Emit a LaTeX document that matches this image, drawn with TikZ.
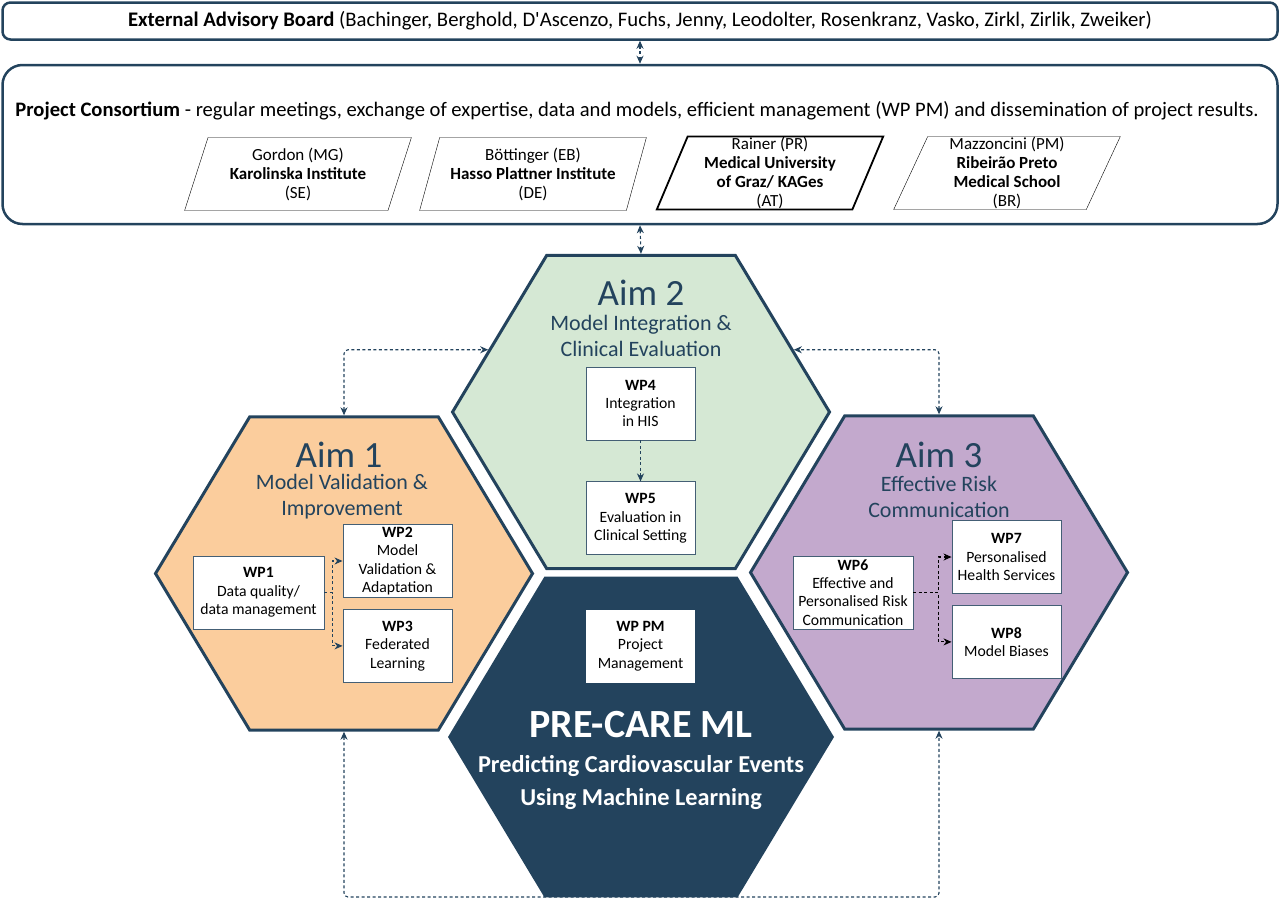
\documentclass[tikz,border=0pt]{standalone}
\usepackage{fontspec}
\setmainfont{Carlito}
\usetikzlibrary{positioning,shapes.geometric,arrows.meta}
\definecolor{deep}{HTML}{23435D}
\definecolor{aimone}{HTML}{FBCD9D}
\definecolor{aimtwo}{HTML}{D5E8D4}
\definecolor{aimthree}{HTML}{C3A9CD}
\tikzset{%
  panel/.style={draw=deep,line width=2.5pt,minimum width=1275pt},
  partner/.style={draw,fill=white,trapezium,trapezium left angle=70,trapezium right angle=110,
    trapezium stretches=true,minimum width=227pt,minimum height=73pt,inner xsep=0pt,inner ysep=-2pt,
    align=center,font=\fontsize{17}{19}\selectfont},
  hexa/.style={regular polygon,regular polygon sides=6,minimum size=377pt,yscale=.96,
    draw=deep,line width=3pt},
  aim/.style={color=deep,inner sep=1pt,font=\fontsize{37}{37}\selectfont},
  goal/.style={color=deep,inner sep=1pt,align=center,font=\fontsize{22}{26}\selectfont},
  wp/.style={draw=deep!85,line width=.9pt,fill=white,align=center,minimum width=109pt,
    minimum height=73pt,inner sep=1pt,font=\fontsize{15.7}{18.3}\selectfont},
  link/.style={dash pattern=on 3pt off 2.5pt,line width=1.1pt,color=deep,
    -{Stealth[length=8pt,width=7pt,inset=2.5pt]}},
  mutual/.style={link,{Stealth[length=8pt,width=7pt,inset=2.5pt]}-{Stealth[length=8pt,width=7pt,inset=2.5pt]}}
}
\begin{document}
\begin{tikzpicture}[x=1pt,y=-1pt]
  \useasboundingbox (0,0) rectangle (1280,908);
  % board and consortium
  \node[panel,rounded corners=8pt,minimum height=37pt,font=\fontsize{20.7}{20.7}\selectfont] (board) at (640,21)
    {\textbf{External Advisory Board} (Bachinger, Berghold, D\textquotesingle Ascenzo, Fuchs, Jenny, Leodolter, Rosenkranz, Vasko, Zirkl, Zirlik, Zweiker)};
  \node[panel,rounded corners=20pt,minimum height=159pt] (consortium) at (640,144.5) {};
  \node[font=\fontsize{20.6}{20.6}\selectfont] (mission) at (637,111)
    {\textbf{Project Consortium} - regular meetings, exchange of expertise, data and models, efficient management (WP PM) and dissemination of project results.};

  \node[partner] (mg) at (298,174) {Gordon (MG)\\\textbf{Karolinska Institute}\\(SE)};
  \node[partner] (eb) at (533,174) {Böttinger (EB)\\\textbf{Hasso Plattner Institute}\\(DE)};
  \node[partner,line width=1.8pt] (pr) at (770,173) {Rainer (PR)\\\textbf{Medical University}\\\textbf{of Graz/ KAGes}\\(AT)};
  \node[partner] (pm) at (1007,173) {Mazzoncini (PM)\\\textbf{Ribeirão Preto}\\\textbf{Medical School}\\(BR)};

  % aims
  \node[hexa,fill=aimone] (aim1) at (344,573.5) {};
  \node[hexa,fill=aimtwo] (aim2) at (641,412) {};
  \node[hexa,fill=aimthree] (aim3) at (939,572.5) {};
  \coordinate (base) at (641,897);
  \draw[mutual,rounded corners=4pt] (aim1.south) |- (base) -| (aim3.south);
  \node[hexa,draw=none,fill=deep,minimum size=386pt] (core) at (641,737) {};

  \node[aim] (t1) at (339,455) {Aim 1};
  \node[goal] (g1) at (342,497) {Model Validation \&\\Improvement};
  \node[aim] (t2) at (641,293) {Aim 2};
  \node[goal] (g2) at (641,336) {Model Integration \&\\Clinical Evaluation};
  \node[aim] (t3) at (939,455) {Aim 3};
  \node[goal] (g3) at (939,497) {Effective Risk\\Communication};

  % work packages
  \node[wp,minimum width=131pt] (wp1) at (258.5,592.5) {\textbf{WP1}\\Data quality/\\data management};
  \node[wp] (wp2) at (397.5,561) {\textbf{WP2}\\Model\\Validation \&\\Adaptation};
  \node[wp,below=11pt of wp2] (wp3) {\textbf{WP3}\\Federated\\Learning};
  \node[wp] (wp4) at (640.5,403.5) {\textbf{WP4}\\Integration\\in HIS};
  \node[wp,below=41pt of wp4] (wp5) {\textbf{WP5}\\Evaluation in\\Clinical Setting};
  \node[wp,minimum width=120pt] (wp6) at (853,592.5) {\textbf{WP6}\\Effective and\\Personalised Risk\\Communication};
  \node[wp] (wp7) at (1006.5,557) {\textbf{WP7}\\Personalised\\Health Services};
  \node[wp,below=11pt of wp7] (wp8) {\textbf{WP8}\\Model Biases};
  \node[wp,draw=none] (wppm) at (640.5,646) {\textbf{WP PM}\\Project\\Management};

  \node[white,font=\bfseries\fontsize{40}{40}\selectfont] (title) at (641,725) {PRE-CARE ML};
  \node[white,align=center,font=\bfseries\fontsize{24.3}{33}\selectfont] (subtitle) at (641,783)
    {Predicting Cardiovascular Events\\Using Machine Learning};

  \draw[link] (wp1.east) -- ++(8,0) |- (wp2.west);
  \draw[link] (wp1.east) -- ++(8,0) |- (wp3.west);
  \draw[link] (wp4) -- (wp5);
  \draw[link,black] (wp6.east) -- ++(25,0) |- (wp7.west);
  \draw[link,black] (wp6.east) -- ++(25,0) |- (wp8.west);

  \draw[mutual] (board) -- (consortium);
  \draw[mutual] (consortium.south) -- (aim2.north);
  \draw[mutual,rounded corners=4pt] (aim1.north) |- (aim2.157);
  \draw[mutual,rounded corners=4pt] (aim3.north) |- (aim2.23);
\end{tikzpicture}
\end{document}
